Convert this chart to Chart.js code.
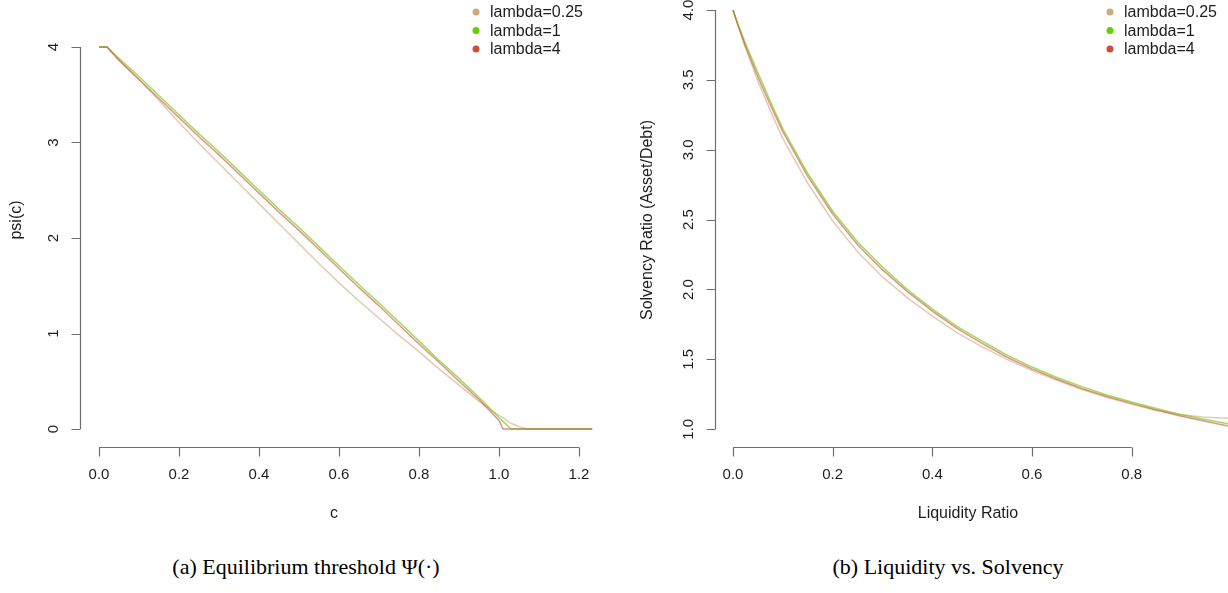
<!DOCTYPE html>
<html>
<head>
<meta charset="utf-8">
<title>Equilibrium threshold and liquidity vs. solvency</title>
<script src="https://cdn.jsdelivr.net/npm/chart.js@4.4.1/dist/chart.umd.min.js"></script>
<style>
  body { margin: 0; background: #fff; width: 1228px; height: 593px; position: relative; overflow: hidden; }
  .panel { position: absolute; top: 0; width: 614px; height: 540px; }
  .caption { position: absolute; top: 554px; width: 614px; text-align: center;
             font-family: "Liberation Serif", "Times New Roman", serif; font-size: 22px; color: #000; }
</style>
</head>
<body>
<div class="panel" style="left:0"><canvas id="psiChart" width="614" height="540"></canvas></div>
<div class="panel" style="left:614px"><canvas id="ratioChart" width="614" height="540"></canvas></div>
<div class="caption" style="left:-1px">(a) Equilibrium threshold &Psi;(&middot;)</div>
<div class="caption" style="left:641px">(b) Liquidity vs. Solvency</div>

<script>
// ---- panel (a): psi(c) for three lambdas ----
const cGrid = [0, 0.02, 0.05, 0.1, 0.15, 0.2, 0.25, 0.3, 0.35, 0.4, 0.45, 0.5, 0.55, 0.6, 0.65,
               0.7, 0.75, 0.8, 0.85, 0.9, 0.95, 1.0, 1.01, 1.03, 1.05, 1.07, 1.1, 1.15, 1.2, 1.233];
const psiLambda025 = [4.00, 4.00, 3.86, 3.66, 3.44, 3.21, 2.99, 2.78, 2.57, 2.36, 2.15, 1.94, 1.73, 1.53, 1.34,
                      1.16, 0.98, 0.81, 0.63, 0.46, 0.29, 0.14, 0.12, 0.06, 0.025, 0, 0, 0, 0, 0];
const psiLambda1   = [4.00, 4.00, 3.88, 3.69, 3.49, 3.29, 3.09, 2.90, 2.70, 2.50, 2.30, 2.11, 1.91, 1.71, 1.51,
                      1.32, 1.12, 0.92, 0.72, 0.53, 0.33, 0.12, 0.08, 0, 0, 0, 0, 0, 0, 0];
const psiLambda4   = [4.00, 4.00, 3.86, 3.66, 3.46, 3.26, 3.06, 2.87, 2.67, 2.47, 2.27, 2.08, 1.88, 1.68, 1.48,
                      1.29, 1.09, 0.89, 0.70, 0.50, 0.31, 0.09, 0, 0, 0, 0, 0, 0, 0, 0];
const psiXTicks = [0, 0.2, 0.4, 0.6, 0.8, 1.0, 1.2];
const psiYTicks = [0, 1, 2, 3, 4];

// ---- panel (b): solvency ratio against liquidity ratio ----
const liqGrid = [0, 0.01, 0.025, 0.05, 0.075, 0.1, 0.15, 0.2, 0.25, 0.3, 0.35, 0.4, 0.45, 0.5,
                 0.55, 0.6, 0.65, 0.7, 0.75, 0.8, 0.85, 0.9, 0.95, 1.0];
const solvLambda025 = [4.00, 3.89, 3.73, 3.49, 3.28, 3.08, 2.76, 2.49, 2.27, 2.09, 1.94, 1.81, 1.69, 1.59,
                       1.50, 1.42, 1.35, 1.285, 1.228, 1.178, 1.135, 1.103, 1.085, 1.078];
const solvLambda1   = [4.00, 3.90, 3.76, 3.55, 3.345, 3.15, 2.83, 2.56, 2.34, 2.16, 2.00, 1.86, 1.735, 1.63,
                       1.53, 1.445, 1.37, 1.305, 1.245, 1.195, 1.148, 1.103, 1.068, 1.035];
const solvLambda4   = [4.00, 3.89, 3.74, 3.52, 3.32, 3.13, 2.81, 2.54, 2.32, 2.14, 1.985, 1.845, 1.72, 1.615,
                       1.515, 1.432, 1.358, 1.292, 1.235, 1.185, 1.138, 1.093, 1.055, 1.018];
const liqXTicks = [0, 0.2, 0.4, 0.6, 0.8];
const solvYTicks = [1.0, 1.5, 2.0, 2.5, 3.0, 3.5, 4.0];

const seriesLabels = ['lambda=0.25', 'lambda=1', 'lambda=4'];
const pointColors  = ['#CDAA7D', '#66CD00', '#CD4F39'];
const lineColors   = ['rgba(205,170,125,0.6)', 'rgba(102,205,0,0.65)', 'rgba(205,79,57,0.6)'];

const AXIS_COLOR = '#6e6e6e';
const TEXT_COLOR = '#1e1e1e';
const TICK_LEN = 9;
const SANS = '"Liberation Sans", Arial, sans-serif';

// base-graphics style axes: line only spans first..last tick, labels on y rotated
const rAxes = {
  id: 'rAxes',
  afterDraw(chart, args, o) {
    const ctx = chart.ctx;
    const xs = chart.scales.x, ys = chart.scales.y;
    const area = chart.chartArea;
    const bx = area.bottom + 0.5;
    const lx = area.left + 0.5;
    ctx.save();
    ctx.strokeStyle = AXIS_COLOR;
    ctx.lineWidth = 1.2;

    ctx.beginPath();
    ctx.moveTo(xs.getPixelForValue(o.xTicks[0]), bx);
    ctx.lineTo(xs.getPixelForValue(o.xTicks[o.xTicks.length - 1]), bx);
    o.xTicks.forEach(v => {
      const px = Math.round(xs.getPixelForValue(v)) + 0.5;
      ctx.moveTo(px, bx);
      ctx.lineTo(px, bx + TICK_LEN);
    });
    ctx.moveTo(lx, ys.getPixelForValue(o.yTicks[0]));
    ctx.lineTo(lx, ys.getPixelForValue(o.yTicks[o.yTicks.length - 1]));
    o.yTicks.forEach(v => {
      const py = Math.round(ys.getPixelForValue(v)) + 0.5;
      ctx.moveTo(lx, py);
      ctx.lineTo(lx - TICK_LEN, py);
    });
    ctx.stroke();

    ctx.fillStyle = TEXT_COLOR;
    ctx.font = '15px ' + SANS;
    ctx.textAlign = 'center';
    ctx.textBaseline = 'middle';
    o.xTicks.forEach(v => {
      ctx.fillText(v.toFixed(o.xDigits), xs.getPixelForValue(v), area.bottom + 28);
    });
    o.yTicks.forEach(v => {
      ctx.save();
      ctx.translate(area.left - 26.5, ys.getPixelForValue(v));
      ctx.rotate(-Math.PI / 2);
      ctx.fillText(v.toFixed(o.yDigits), 0, 0);
      ctx.restore();
    });

    // axis titles
    ctx.font = '16px ' + SANS;
    ctx.fillText(o.xTitle, o.xTitleX, 514);
    ctx.save();
    ctx.translate(o.yTitleX, 220);
    ctx.rotate(-Math.PI / 2);
    ctx.fillText(o.yTitle, 0, 0);
    ctx.restore();

    // legend, top right
    ctx.textAlign = 'left';
    seriesLabels.forEach((lab, i) => {
      const y = 12 + i * 18.5;
      ctx.fillStyle = pointColors[i];
      ctx.beginPath();
      ctx.arc(o.legendX, y, 3.5, 0, Math.PI * 2);
      ctx.fill();
      ctx.fillStyle = TEXT_COLOR;
      ctx.fillText(lab, o.legendX + 14, y + 1);
    });
    ctx.restore();
  }
};

function makeDatasets(xs, seriesList) {
  // draw order: lambda=4 on top, lambda=0.25 underneath
  return seriesList.map((vals, i) => ({
    label: seriesLabels[i],
    data: xs.map((x, k) => ({ x: x, y: vals[k] })),
    borderColor: lineColors[i],
    borderWidth: 1.5,
    pointRadius: 0,
    tension: 0,
    fill: false,
    order: 3 - i
  }));
}

function makeChart(id, xs, seriesList, scaleRange, padding, axisOpts) {
  return new Chart(document.getElementById(id), {
    type: 'line',
    data: { datasets: makeDatasets(xs, seriesList) },
    options: {
      responsive: false,
      animation: false,
      layout: { padding: padding },
      scales: {
        x: { type: 'linear', display: false, min: scaleRange.xMin, max: scaleRange.xMax },
        y: { type: 'linear', display: false, min: scaleRange.yMin, max: scaleRange.yMax }
      },
      plugins: {
        legend: { display: false },
        tooltip: { enabled: false },
        rAxes: axisOpts
      }
    },
    plugins: [rAxes]
  });
}

makeChart('psiChart', cGrid, [psiLambda025, psiLambda1, psiLambda4],
  { xMin: -0.0475, xMax: 1.28, yMin: -0.188, yMax: 4.188 },
  { left: 80, right: 3, top: 29, bottom: 93 },
  { xTicks: psiXTicks, yTicks: psiYTicks, xDigits: 1, yDigits: 0,
    xTitle: 'c', xTitleX: 334, yTitle: 'psi(c)', yTitleX: 17, legendX: 476 });

makeChart('ratioChart', liqGrid, [solvLambda025, solvLambda1, solvLambda4],
  { xMin: -0.0361, xMax: 0.9932, yMin: 0.873, yMax: 4.0715 },
  { left: 101, right: 0, top: 0, bottom: 93 },
  { xTicks: liqXTicks, yTicks: solvYTicks, xDigits: 1, yDigits: 1,
    xTitle: 'Liquidity Ratio', xTitleX: 354, yTitle: 'Solvency Ratio (Asset/Debt)', yTitleX: 34, legendX: 496 });
</script>
</body>
</html>
